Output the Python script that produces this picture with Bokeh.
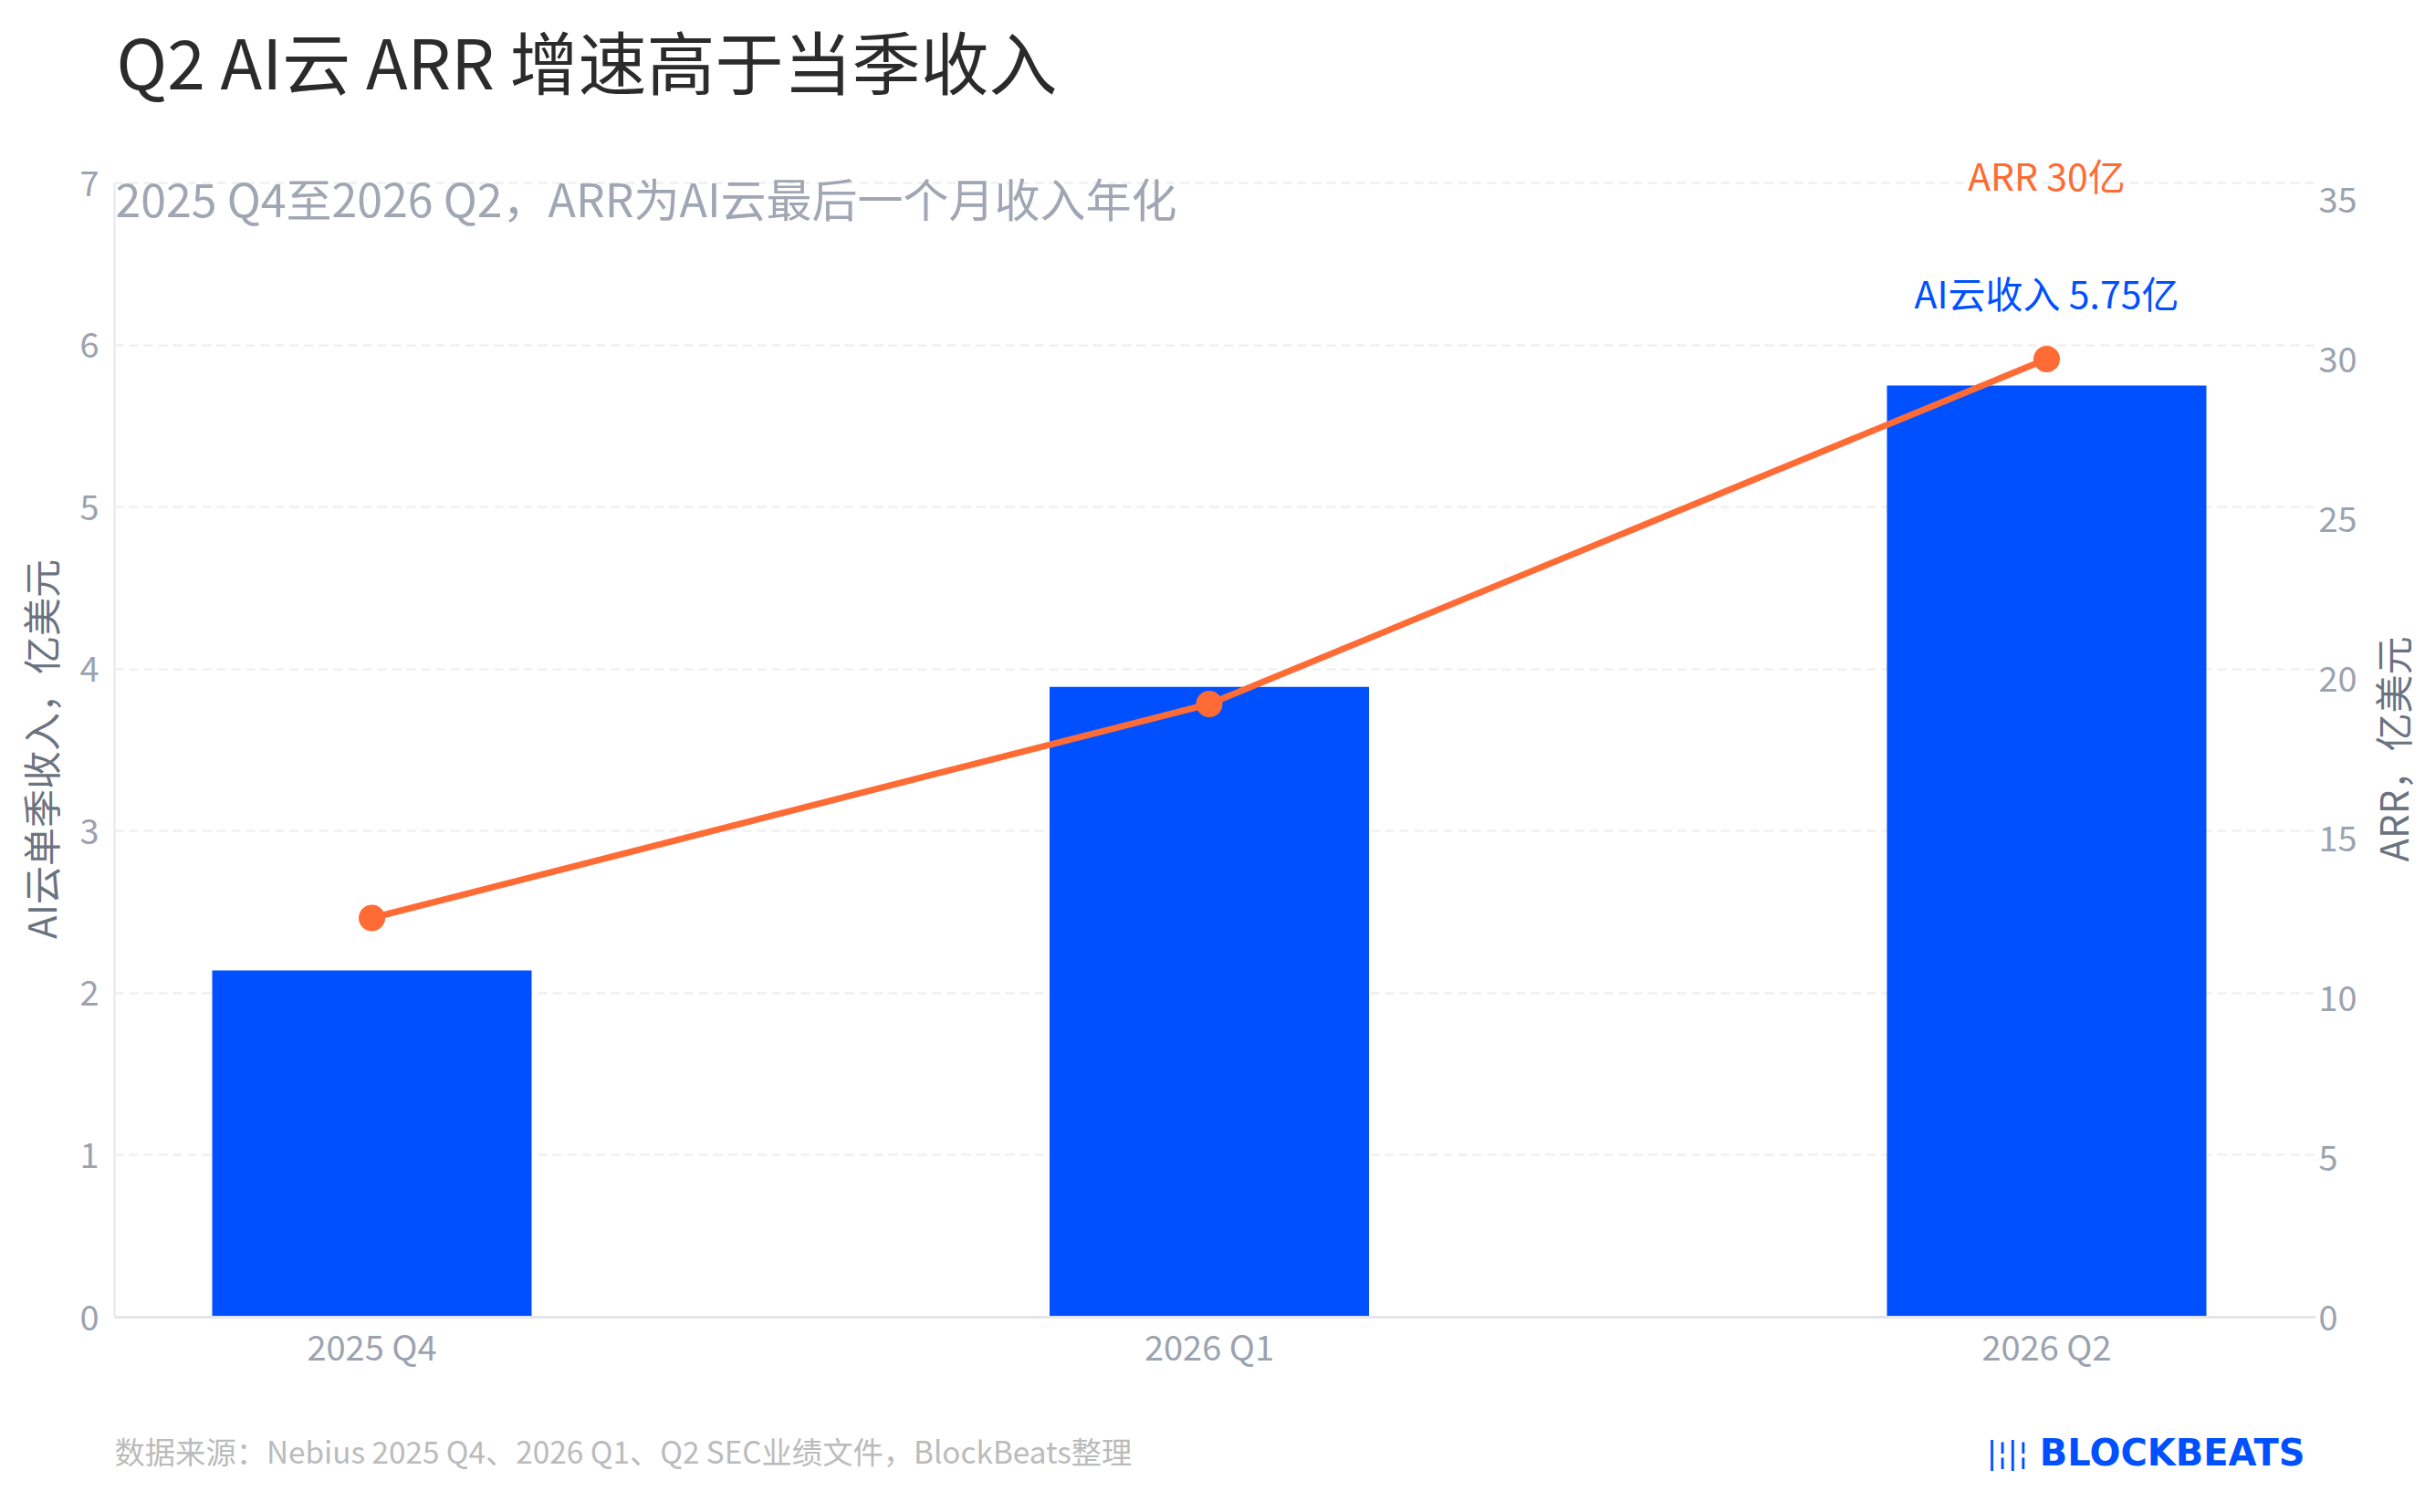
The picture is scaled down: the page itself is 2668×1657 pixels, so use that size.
import math
from bokeh.plotting import figure
from bokeh.layouts import row
from bokeh.models import Range1d, LinearAxis, FixedTicker, Label, Span
from bokeh.core.properties import value
from bokeh.embed import file_html
from bokeh.resources import INLINE

# ---- data ----
categories = ["2025 Q4", "2026 Q1", "2026 Q2"]
ai_cloud_revenue = [2.14, 3.89, 5.75]      # 亿美元, AI云单季收入
arr_values = [12.5, 19.2, 30.0]            # 亿美元, ARR
left_ticks = [0, 1, 2, 3, 4, 5, 6, 7]
right_ticks = [0, 5, 10, 15, 20, 25, 30, 35]

title_text = "Q2 AI云 ARR 增速高于当季收入"
subtitle_text = "2025 Q4至2026 Q2，ARR为AI云最后一个月收入年化"
left_label_text = "AI云单季收入，亿美元"
right_label_text = "ARR，亿美元"
source_text = "数据来源：Nebius 2025 Q4、2026 Q1、Q2 SEC业绩文件，BlockBeats整理"
logo_text = "BLOCKBEATS"

FONT = "Noto Sans CJK SC"
BLUE = "#0050FF"
ORANGE = "#FF6B35"
TICK_GRAY = "#9CA3AF"
LABEL_GRAY = "#6B7280"

# ---- layout geometry (page pixels) ----
W, H = 2652, 1641
WM = 2586                     # width of main figure; rest holds the right axis title
FL = 125                      # frame left
FR = 2537                     # frame right
Y0 = 1443                     # pixel row of value 0
Y7 = 200                      # pixel row of left value 7
PPU_L = (Y0 - Y7) / 7
PPU_R = 35.0
CX0, CX2 = 407, 2242
PPU_X = (CX2 - CX0) / 2

x_pos = list(range(len(categories)))

p = figure(width=WM, height=H, output_backend="svg", toolbar_location=None, title=None,
           x_axis_location=None,
           x_range=Range1d(-(CX0 - FL) / PPU_X, 2 + (FR - CX2) / PPU_X),
           y_range=Range1d(-(H - Y0) / PPU_L, 7 + Y7 / PPU_L),
           min_border_left=FL, min_border_right=WM - FR, min_border_top=0, min_border_bottom=0)
p.extra_y_ranges = {"arr": Range1d(-(H - Y0) / PPU_R, Y0 / PPU_R)}
p.outline_line_color = None
p.background_fill_color = "white"
p.border_fill_color = "white"

# grid
for g in p.xgrid:
    g.visible = False
p.ygrid.ticker = FixedTicker(ticks=left_ticks)
p.ygrid.grid_line_color = "#EDEDED"
p.ygrid.grid_line_width = 2
p.ygrid.grid_line_dash = "10 6"

# left axis
ya = p.yaxis[0]
ya.ticker = FixedTicker(ticks=left_ticks)
ya.bounds = (0, 7)
ya.axis_line_color = "#E5E7EB"
ya.axis_line_width = 2
ya.major_label_standoff = 17
ya.axis_label = left_label_text
ya.axis_label_standoff = 10

# right axis (ticks only; its title is drawn in the narrow figure beside)
ra = LinearAxis(y_range_name="arr", ticker=FixedTicker(ticks=right_ticks))
ra.axis_line_color = None
ra.major_label_standoff = 3
p.add_layout(ra, "right")

for ax in (ya, ra):
    ax.major_tick_line_color = None
    ax.minor_tick_line_color = None
    ax.major_tick_out = 0
    ax.major_tick_in = 0
    ax.major_label_text_font = FONT
    ax.major_label_text_font_size = "38px"
    ax.major_label_text_color = TICK_GRAY
    ax.axis_label_text_font = FONT
    ax.axis_label_text_font_size = "42px"
    ax.axis_label_text_font_style = "normal"
    ax.axis_label_text_color = LABEL_GRAY

# x axis line and category labels
p.add_layout(Span(location=0, dimension="width", line_color="#E3E5EA", line_width=3))
p.text(x=x_pos, y=[0] * len(x_pos), text=categories, y_offset=31,
       text_align="center", text_baseline="middle", text_font=value(FONT),
       text_font_size="38px", text_color=TICK_GRAY)

# bars
p.vbar(x=x_pos, top=ai_cloud_revenue, width=350 / PPU_X, fill_color=BLUE, line_color=None)

# ARR line
p.line(x=x_pos, y=arr_values, y_range_name="arr", line_width=7, line_color=ORANGE)
p.scatter(x=x_pos, y=arr_values, y_range_name="arr", size=29, fill_color=ORANGE, line_color=None)

# value annotations on last point
last = len(categories) - 1
p.add_layout(Label(x=x_pos[last], y=arr_values[last], y_range_name="arr", y_offset=203,
                   text=f"ARR {arr_values[last]:.0f}亿", text_font=FONT, text_font_size="41px",
                   text_color=ORANGE, text_align="center", text_baseline="middle"))
p.add_layout(Label(x=x_pos[last], y=arr_values[last], y_range_name="arr", y_offset=74,
                   text=f"AI云收入 {ai_cloud_revenue[last]}亿", text_font=FONT, text_font_size="41px",
                   text_color=BLUE, text_align="center", text_baseline="middle"))


def scr_x(xr):
    return xr - FL


def scr_y(yr):
    return H - yr


# title, subtitle, source, logo
p.add_layout(Label(x=scr_x(127), y=scr_y(65), x_units="screen", y_units="screen", text=title_text,
                   text_font=FONT, text_font_size="75px", text_color="#2B2B2B",
                   text_align="left", text_baseline="middle"))
p.add_layout(Label(x=scr_x(126), y=scr_y(215), x_units="screen", y_units="screen", text=subtitle_text,
                   text_font=FONT, text_font_size="50px", text_color="#A0A6B3",
                   text_align="left", text_baseline="middle"))
p.add_layout(Label(x=scr_x(125), y=scr_y(1589), x_units="screen", y_units="screen", text=source_text,
                   text_font=FONT, text_font_size="33.3px", text_color="#BBBBBB",
                   text_align="left", text_baseline="middle"))
p.add_layout(Label(x=scr_x(2525), y=scr_y(1591), x_units="screen", y_units="screen", text=logo_text,
                   text_font="DejaVu Sans", text_font_style="bold", text_font_size="40px",
                   text_color=BLUE, text_align="right", text_baseline="middle"))
p.add_layout(Label(x=scr_x(2222), y=scr_y(1591), x_units="screen", y_units="screen", text="|¦|¦",
                   text_font="DejaVu Sans", text_font_size="34px",
                   text_color=BLUE, text_align="right", text_baseline="middle"))

# narrow companion figure: its left axis carries the right-hand axis title (bottom-to-top)
QW = W - WM
q = figure(width=QW, height=H, output_backend="svg", toolbar_location=None, title=None,
           x_axis_location=None, y_axis_location="left",
           x_range=Range1d(0, 1), y_range=Range1d(0, 1),
           min_border_left=QW - 4, min_border_right=0, min_border_top=0, min_border_bottom=0)
q.outline_line_color = None
q.background_fill_color = "white"
q.border_fill_color = "white"
for g in q.grid:
    g.visible = False
qa = q.yaxis[0]
qa.ticker = FixedTicker(ticks=[])
qa.axis_line_color = None
qa.major_tick_line_color = None
qa.minor_tick_line_color = None
qa.major_tick_out = 0
qa.major_tick_in = 0
qa.major_label_text_font_size = "1px"
qa.major_label_standoff = 0
qa.axis_label = right_label_text
qa.axis_label_standoff = 0
qa.axis_label_text_font = FONT
qa.axis_label_text_font_size = "42px"
qa.axis_label_text_font_style = "normal"
qa.axis_label_text_color = LABEL_GRAY

layout = row(p, q, spacing=0)
open("out.html", "w").write(file_html(layout, INLINE))
